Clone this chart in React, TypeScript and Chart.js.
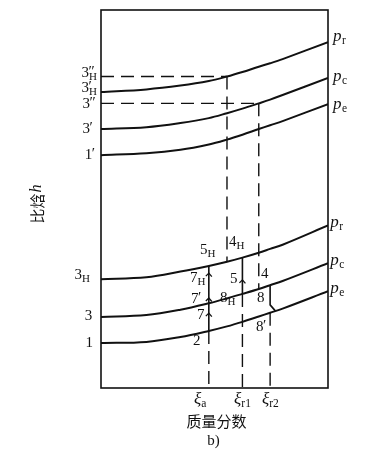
import React, { useEffect, useRef } from "react";
import { Chart, registerables } from "chart.js";

Chart.register(...registerables);

const W = 385;
const H = 462;
const INK = "#111";

// mass fraction (0..100 of the frame) and specific enthalpy (0..100 of the frame)
const curveX = [0, 20, 35, 47.5, 55.5, 62.3, 69.5, 74.5, 80, 100];
const upperPr = [78.3, 79.0, 80.0, 81.2, 82.4, 83.6, 85.0, 85.9, 87.0, 91.5];
const upperPc = [68.5, 69.0, 70.1, 71.4, 72.7, 73.9, 75.3, 76.3, 77.5, 82.0];
const upperPe = [61.6, 62.1, 63.0, 64.4, 65.7, 67.0, 68.5, 69.5, 70.6, 75.1];
const lowerPr = [28.8, 29.3, 30.8, 32.3, 33.4, 34.5, 35.8, 36.8, 37.9, 43.0];
const lowerPc = [18.8, 19.3, 20.7, 22.4, 23.7, 24.9, 26.2, 27.2, 28.3, 33.0];
const lowerPe = [11.9, 12.2, 13.5, 15.1, 16.3, 17.5, 18.9, 19.9, 21.0, 25.6];

// key mass fractions
const xiA = 47.5;
const x5H = 55.5;
const xiR1 = 62.3;
const x4H = 69.5;
const xiR2 = 74.5;

// bend of line 8 -> 8' : break enthalpy and end point
const bend8X = [xiR2, 76.8];
const bend8Y = [22.0, 20.4];

// flow arrows on the vertical process lines
const arrowX = [xiA, xiA, xiA, xiR1];
const arrowY = [30.4, 23.8, 19.8, 28.6];

// left state labels: main, prime, subscript, x, y
const leftLabels = [
  { m: "3", p: "″", s: "H", x: -8.6, y: 83.3 },
  { m: "3", p: "′", s: "H", x: -8.6, y: 79.4 },
  { m: "3", p: "″", s: "", x: -8.1, y: 75.1 },
  { m: "3", p: "′", s: "", x: -8.1, y: 68.5 },
  { m: "1", p: "′", s: "", x: -7.2, y: 61.6 },
  { m: "3", p: "", s: "H", x: -11.7, y: 29.9 },
  { m: "3", p: "", s: "", x: -7.2, y: 19.0 },
  { m: "1", p: "", s: "", x: -6.8, y: 11.9 },
];

// point labels in the diagram
const pointLabels = [
  { m: "5", p: "", s: "H", x: 43.6, y: 36.5 },
  { m: "4", p: "", s: "H", x: 56.4, y: 38.6 },
  { m: "7", p: "", s: "H", x: 39.2, y: 29.1 },
  { m: "5", p: "", s: "", x: 56.8, y: 28.8 },
  { m: "4", p: "", s: "", x: 70.5, y: 30.2 },
  { m: "7", p: "′", s: "", x: 39.6, y: 23.5 },
  { m: "8", p: "", s: "H", x: 52.4, y: 23.8 },
  { m: "8", p: "", s: "", x: 68.7, y: 23.8 },
  { m: "7", p: "", s: "", x: 42.3, y: 19.3 },
  { m: "8", p: "′", s: "", x: 68.3, y: 16.1 },
  { m: "2", p: "", s: "", x: 40.5, y: 12.4 },
];

// pressure labels at the right end of the curves (baseline enthalpy)
const pressureSubs = ["r", "c", "e", "r", "c", "e"];
const pressureX = [102.2, 102.2, 102.2, 101.0, 101.0, 101.0];
const pressureY = [91.8, 81.2, 73.8, 42.6, 32.5, 25.1];

// mass fraction tick labels
const xiSubs = ["a", "r1", "r2"];
const xiLabelX = [41.0, 58.6, 70.9];

const yTitleMain = "比焓";
const yTitleVar = "h";
const xTitle = "质量分数";
const figTag = "b)";

const at = (arr: number[], x: number) => arr[curveX.indexOf(x)];
const pts = (xs: number[], ys: number[]) => xs.map((x, i) => ({ x, y: ys[i] }));

const curve = (ys: number[]) => ({
  data: pts(curveX, ys),
  showLine: true,
  borderColor: INK,
  borderWidth: 2,
  pointRadius: 0,
  tension: 0.35,
  fill: false,
});

const seg = (xs: number[], ys: number[], dashed: boolean, width = 1.5) => ({
  data: pts(xs, ys),
  showLine: true,
  borderColor: INK,
  borderWidth: width,
  borderDash: dashed ? [13, 7] : [],
  pointRadius: 0,
  tension: 0,
  fill: false,
});

const SERIF = "'Liberation Serif', 'Times New Roman', serif";
const CJK = "'Noto Sans CJK SC', sans-serif";

function drawState(ctx: CanvasRenderingContext2D, x: number, y: number, m: string, p: string, s: string) {
  ctx.textAlign = "left";
  ctx.textBaseline = "middle";
  ctx.font = `15px ${SERIF}`;
  ctx.fillText(m, x, y);
  const w = ctx.measureText(m).width;
  if (p) {
    ctx.font = `15px ${SERIF}`;
    ctx.fillText(p, x + w - 0.5, y - 1);
  }
  if (s) {
    ctx.font = `11px ${SERIF}`;
    ctx.fillText(s, x + w, y + 4);
  }
}

const textPlugin = {
  id: "diagramText",
  beforeDatasetsDraw(chart: any) {
    const { ctx, chartArea } = chart;
    ctx.save();
    ctx.strokeStyle = INK;
    ctx.lineWidth = 1.6;
    ctx.strokeRect(chartArea.left, chartArea.top, chartArea.right - chartArea.left, chartArea.bottom - chartArea.top);
    ctx.restore();
  },
  afterDraw(chart: any) {
    const { ctx, chartArea } = chart;
    const xs = chart.scales.x;
    const ys = chart.scales.y;
    ctx.save();
    ctx.fillStyle = INK;
    ctx.strokeStyle = INK;

    // arrows
    ctx.lineWidth = 1.3;
    arrowX.forEach((ax: number, i: number) => {
      const px = xs.getPixelForValue(ax);
      const py = ys.getPixelForValue(arrowY[i]);
      ctx.beginPath();
      ctx.moveTo(px - 3, py + 3);
      ctx.lineTo(px, py);
      ctx.lineTo(px + 3, py + 3.5);
      ctx.stroke();
    });

    leftLabels.concat(pointLabels).forEach((l) => {
      drawState(ctx, xs.getPixelForValue(l.x), ys.getPixelForValue(l.y), l.m, l.p, l.s);
    });

    // pressure labels
    pressureSubs.forEach((sub, i) => {
      const px = xs.getPixelForValue(pressureX[i]);
      const py = ys.getPixelForValue(pressureY[i]);
      ctx.textAlign = "left";
      ctx.textBaseline = "alphabetic";
      ctx.font = `italic 17px ${SERIF}`;
      ctx.fillText("p", px, py);
      const w = ctx.measureText("p").width;
      ctx.font = `11.5px ${SERIF}`;
      ctx.fillText(sub, px + w + 0.5, py + 3);
    });

    // xi labels
    xiSubs.forEach((sub, i) => {
      const px = xs.getPixelForValue(xiLabelX[i]);
      const py = chartArea.bottom + 16;
      ctx.textAlign = "left";
      ctx.textBaseline = "alphabetic";
      ctx.font = `italic 17px ${SERIF}`;
      ctx.fillText("ξ", px, py);
      const w = ctx.measureText("ξ").width;
      ctx.font = `11.5px ${SERIF}`;
      ctx.fillText(sub, px + w, py + 3);
    });

    // x title and figure tag
    const cx = (chartArea.left + chartArea.right) / 2;
    ctx.textAlign = "center";
    ctx.textBaseline = "middle";
    ctx.font = `15px ${CJK}`;
    ctx.fillText(xTitle, cx + 2, chartArea.bottom + 33);
    ctx.font = `15px ${SERIF}`;
    ctx.fillText(figTag, cx - 1, chartArea.bottom + 53);

    // y title (rotated)
    ctx.translate(chartArea.left - 64, (chartArea.top + chartArea.bottom) / 2 + 5);
    ctx.rotate(-Math.PI / 2);
    ctx.font = `15px ${CJK}`;
    const w1 = ctx.measureText(yTitleMain).width;
    ctx.font = `italic 16px ${SERIF}`;
    const w2 = ctx.measureText(yTitleVar).width;
    const start = -(w1 + w2 + 1) / 2;
    ctx.textAlign = "left";
    ctx.font = `15px ${CJK}`;
    ctx.fillText(yTitleMain, start, 0);
    ctx.font = `italic 16px ${SERIF}`;
    ctx.fillText(yTitleVar, start + w1 + 1, 0);
    ctx.restore();
  },
};

export default function App() {
  const ref = useRef<HTMLCanvasElement>(null);
  useEffect(() => {
    if (!ref.current) return;
    const datasets: any[] = [
      curve(upperPr),
      curve(upperPc),
      curve(upperPe),
      curve(lowerPr),
      curve(lowerPc),
      curve(lowerPe),
      // dashed construction lines
      seg([0, x5H], [at(upperPr, x5H), at(upperPr, x5H)], true, 1.4),
      seg([x5H, x5H], [at(upperPr, x5H), at(lowerPr, x5H)], true, 1.4),
      seg([0, x4H], [at(upperPc, x4H), at(upperPc, x4H)], true, 1.4),
      seg([x4H, x4H], [at(upperPc, x4H), at(lowerPc, x4H)], true, 1.4),
      seg([xiA, xiA], [at(lowerPe, xiA), 0], true, 1.4),
      seg([xiR1, xiR1], [at(lowerPc, xiR1), 0], true, 1.4),
      seg([xiR2, xiR2], [at(lowerPe, xiR2), 0], true, 1.4),
      // solid process lines
      seg([xiA, xiA], [at(lowerPr, xiA), at(lowerPe, xiA)], false, 1.6),
      seg([xiR1, xiR1], [at(lowerPr, xiR1), at(lowerPc, xiR1)], false, 1.6),
      seg([xiR2, ...bend8X], [at(lowerPc, xiR2), ...bend8Y], false, 1.6),
    ];
    const chart = new Chart(ref.current, {
      type: "scatter",
      data: { datasets },
      options: {
        animation: false,
        responsive: false,
        devicePixelRatio: 1,
        layout: { padding: { left: 101, top: 10, right: W - 328, bottom: H - 388 } },
        scales: {
          x: { type: "linear", min: 0, max: 100, display: false },
          y: { type: "linear", min: 0, max: 100, display: false },
        },
        plugins: { legend: { display: false }, tooltip: { enabled: false } },
        elements: { point: { radius: 0 } },
      },
      plugins: [textPlugin],
    } as any);
    return () => chart.destroy();
  }, []);
  return (
    <div style={{ position: "absolute", left: 0, top: 0, width: W, height: H, background: "#fff" }}>
      <canvas ref={ref} width={W} height={H} style={{ display: "block" }} />
    </div>
  );
}
